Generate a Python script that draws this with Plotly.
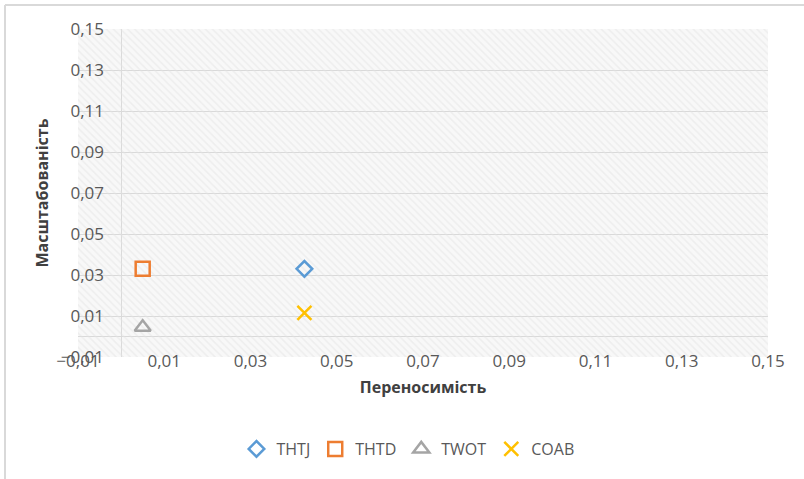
import plotly.graph_objects as go

# Data
series_names = ["THTJ", "THTD", "TWOT", "COAB"]
x_values = [0.0425, 0.005, 0.005, 0.0425]
y_values = [0.033, 0.033, 0.0045, 0.0115]
colors = ["#5b9bd5", "#ed7d31", "#a5a5a5", "#ffc000"]
symbols = ["diamond-open", "square-open", "triangle-up-open", "x-thin-open"]
sizes = [12, 14, 14, 14]
x_range = [-0.01, 0.15]
y_range = [-0.01, 0.15]
tick_vals = [-0.01, 0.01, 0.03, 0.05, 0.07, 0.09, 0.11, 0.13, 0.15]
x_title = "Переносимість"
y_title = "Масштабованість"

W, H = 804, 479
L, R, T, B = 78, 36, 29, 122
pw, ph = W - L - R, H - T - B

fig = go.Figure()

# hatched plot-area background (polygon extends past the axis range; the plot clips it)
pad = 0.05
bx = [x_range[0] - pad, x_range[1] + pad, x_range[1] + pad, x_range[0] - pad, x_range[0] - pad]
by = [y_range[0] - pad, y_range[0] - pad, y_range[1] + pad, y_range[1] + pad, y_range[0] - pad]
fig.add_trace(go.Scatter(
    x=bx, y=by, mode="lines", line=dict(width=0, color="rgba(0,0,0,0)"),
    fill="toself", fillcolor="rgba(0,0,0,0)",
    fillpattern=dict(shape="\\", fgcolor="#e3e3e3", bgcolor="rgba(255,255,255,0)", size=5, solidity=0.3),
    hoverinfo="skip", showlegend=False,
))

for name, xv, yv, c, s, sz in zip(series_names, x_values, y_values, colors, symbols, sizes):
    fig.add_trace(go.Scatter(
        x=[xv], y=[yv], mode="markers", name=name,
        marker=dict(symbol=s, size=sz, color=c, line=dict(color=c, width=2.5)),
    ))

# empty trace on the label-only overlay axis
fig.add_trace(go.Scatter(x=[None], y=[None], yaxis="y2", showlegend=False, hoverinfo="skip"))

fig.update_layout(
    width=W, height=H,
    margin=dict(l=L, r=R, t=T, b=B, autoexpand=False),
    paper_bgcolor="white", plot_bgcolor="#f8f8f8",
    separators=", ",
    font=dict(family="Open Sans", color="#595959", size=16),
    xaxis=dict(
        range=x_range, tickvals=tick_vals, tickformat=".2f",
        showgrid=False, zeroline=True, zerolinecolor="#dadada", zerolinewidth=1,
        showline=False, ticks="", tickfont=dict(size=17, color="#595959"),
        ticklabelstandoff=-8,
        title=dict(text=x_title, font=dict(size=16, color="#404040", weight="bold"), standoff=10),
        automargin=False,
    ),
    yaxis=dict(
        range=y_range, tickvals=tick_vals,
        showgrid=True, gridcolor="#d9d9d9", gridwidth=1,
        zeroline=True, zerolinecolor="#d9d9d9", zerolinewidth=1,
        showline=False, ticks="", showticklabels=False,
        title=dict(text=y_title, font=dict(size=16, color="#404040", weight="bold"), standoff=24),
        automargin=False,
    ),
    yaxis2=dict(
        range=y_range, tickvals=tick_vals, tickformat=".2f",
        overlaying="y", side="left", anchor="x",
        showgrid=False, zeroline=False, showline=False, ticks="",
        ticklabelstandoff=-27,
        tickfont=dict(size=17, color="#595959"),
        automargin=False,
    ),
    legend=dict(
        orientation="h", x=(408 - L) / pw, y=-(449 - (T + ph)) / ph,
        xanchor="center", yanchor="middle",
        font=dict(size=16, color="#595959"), itemwidth=30,
        bgcolor="rgba(0,0,0,0)",
    ),
    shapes=[
        dict(type="line", xref="paper", yref="paper",
             x0=(5 - L) / pw, x1=(W - L) / pw + 0.01, y0=1 + (T - 5) / ph, y1=1 + (T - 5) / ph,
             line=dict(color="#d9d9d9", width=2)),
        dict(type="line", xref="paper", yref="paper",
             x0=(5 - L) / pw, x1=(5 - L) / pw, y0=1 + (T - 5) / ph, y1=-(B + 5) / ph,
             line=dict(color="#d9d9d9", width=2)),
    ],
)

fig.write_html("out.html")
